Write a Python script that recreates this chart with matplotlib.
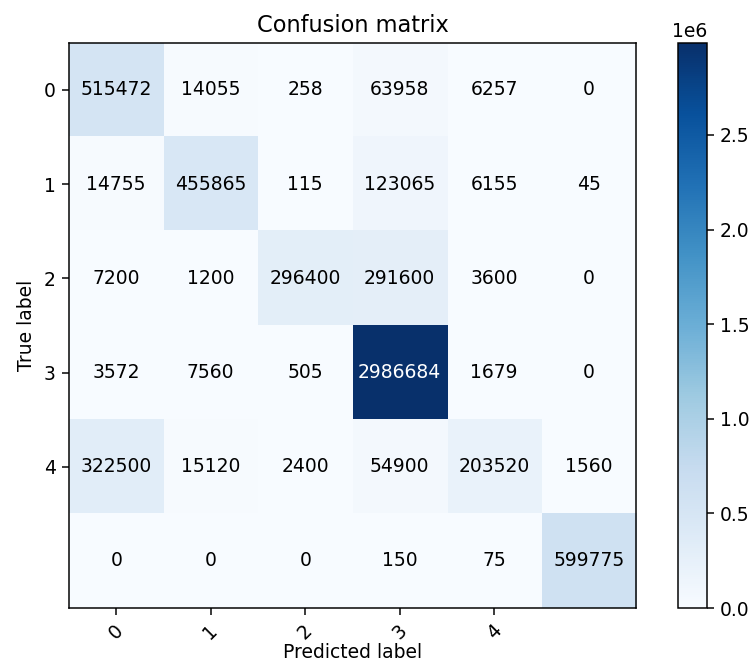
import matplotlib.pyplot as plt
import numpy as np

classes = ['0', '1', '2', '3', '4']
cm = np.array([
    [515472, 14055, 258, 63958, 6257, 0],
    [14755, 455865, 115, 123065, 6155, 45],
    [7200, 1200, 296400, 291600, 3600, 0],
    [3572, 7560, 505, 2986684, 1679, 0],
    [322500, 15120, 2400, 54900, 203520, 1560],
    [0, 0, 0, 150, 75, 599775],
])

fig = plt.figure(figsize=(753 / 135, 668 / 135), dpi=135)
ax = fig.add_axes([0.0916, 0.0898, 0.753, 0.846])
cax = fig.add_axes([0.9004, 0.0898, 0.0385, 0.846])

im = ax.imshow(cm, interpolation='nearest', cmap=plt.cm.Blues, aspect='auto')
ax.set_title('Confusion matrix')
fig.colorbar(im, cax=cax)

tick_marks = np.arange(len(classes))
ax.set_xticks(tick_marks)
ax.set_xticklabels(classes, rotation=45)
ax.set_yticks(tick_marks)
ax.set_yticklabels(classes)

thresh = cm.max() / 2.
for i in range(cm.shape[0]):
    for j in range(cm.shape[1]):
        ax.text(j, i, format(cm[i, j], 'd'),
                horizontalalignment='center', verticalalignment='center',
                color='white' if cm[i, j] > thresh else 'black')

ax.set_ylabel('True label')
ax.set_xlabel('Predicted label', labelpad=0)
fig.savefig('out.png', dpi=135)
